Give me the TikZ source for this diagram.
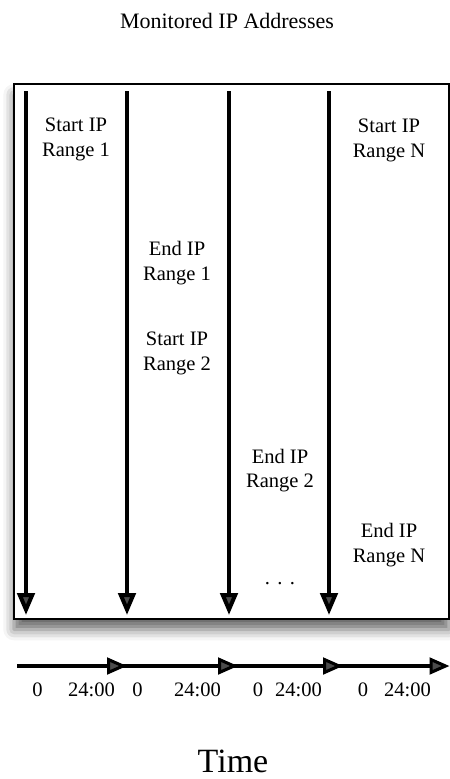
\documentclass[tikz,border=0pt]{standalone}
\usepackage{fontspec}
\setmainfont{Liberation Serif}
\usetikzlibrary{arrows.meta,shadows.blur}
\begin{document}
\begin{tikzpicture}[x=0.75pt,y=-0.75pt,
  lbl/.style={align=center,inner sep=0pt,font=\fontsize{15.4}{18.4}\selectfont},
  ticklbl/.style={anchor=base,inner sep=0pt,font=\fontsize{15.4}{18.4}\selectfont},
  frame/.style={draw=black,line width=1.1pt,fill=white,
    blur shadow={shadow xshift=0pt,shadow yshift=-8pt,shadow blur radius=8pt,shadow opacity=60}},
  varrow/.style={line width=3pt,-{Triangle[length=16.5pt,width=13pt]}},
  axisline/.style={line width=2.3pt},
  harrow/.style={line width=2.3pt,-{Triangle[length=15pt,width=12.5pt]}}]
\useasboundingbox (0,0) rectangle (450,779);

% title
\node[anchor=base,inner sep=0pt,font=\fontsize{16.5}{19}\selectfont] (title) at (227,28) {Monitored IP Addresses};

% framed panel of address ranges
\path[frame] (14,84) rectangle (449,619);

% one downward arrow per monitored day
\foreach \i/\x in {1/26,2/127,3/229,4/329}{
  \coordinate (v\i top) at (\x,91);
  \coordinate (v\i bot) at (\x,615);
  \draw[varrow] (v\i top) -- (v\i bot);
}

% range boundaries
\node[lbl] (s1) at (76,139.5) {Start IP\\Range 1};
\node[lbl] (sN) at (389,140.5) {Start IP\\Range N};
\node[lbl] (e1) at (177,263) {End IP\\Range 1};
\node[lbl] (s2) at (177,353.5) {Start IP\\Range 2};
\node[lbl] (e2) at (280,470.5) {End IP\\Range 2};
\node[lbl] (eN) at (389,545) {End IP\\Range N};
\node[ticklbl] (dots) at (280,584) {.\kern5.5pt.\kern5.5pt.};

% time axis, one segment per day
\coordinate (t0) at (17,666);
\coordinate (t1) at (127,666);
\coordinate (t2) at (238,666);
\coordinate (t3) at (343,666);
\coordinate (t4) at (449.5,666);
\draw[axisline] (t0) -- (t3);
\draw[harrow] (t0) -- (t1);
\draw[harrow] (t1) -- (t2);
\draw[harrow] (t2) -- (t3);
\draw[harrow] (t3) -- (t4);

% day start and end marks
\node[ticklbl] (z1) at (37.5,696) {0};
\node[ticklbl] (h1) at (91.5,696) {24:00};
\node[ticklbl] (z2) at (137.5,696) {0};
\node[ticklbl] (h2) at (197.5,696) {24:00};
\node[ticklbl] (z3) at (258,696) {0};
\node[ticklbl] (h3) at (298.5,696) {24:00};
\node[ticklbl] (z4) at (363,696) {0};
\node[ticklbl] (h4) at (407.5,696) {24:00};

% axis caption
\node[anchor=base,inner sep=0pt,font=\fontsize{25.5}{30}\selectfont] (time) at (233,772) {Time};
\end{tikzpicture}
\end{document}
